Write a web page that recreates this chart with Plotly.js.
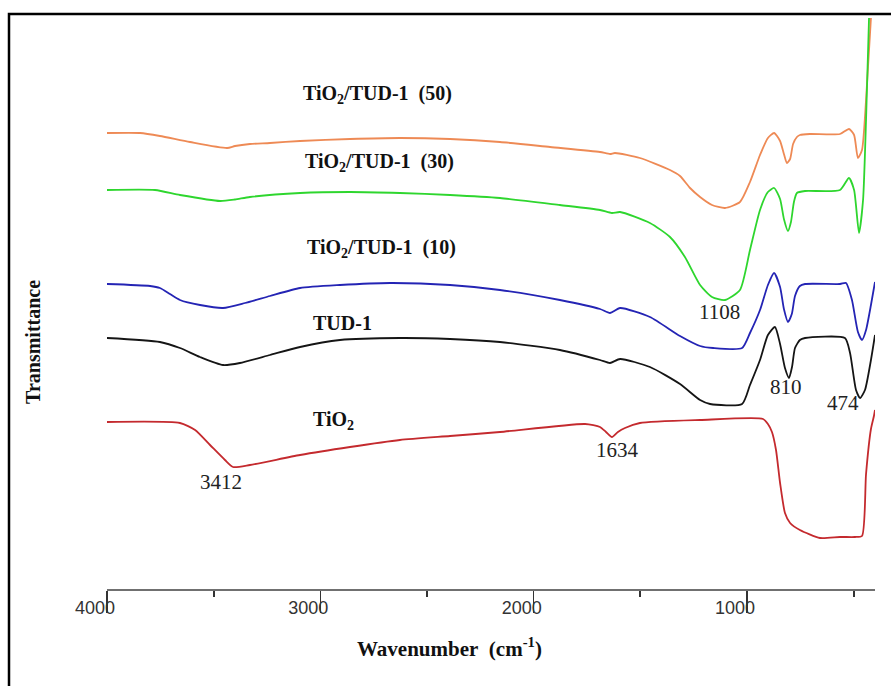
<!DOCTYPE html>
<html>
<head>
<meta charset="utf-8">
<script src="https://cdn.plot.ly/plotly-3.0.1.min.js"></script>
<style>html,body{margin:0;padding:0;background:#fff;}#chart{width:891px;height:686px;}</style>
</head>
<body>
<div id="chart"></div>
<script>
// Wavenumber (cm-1) and offset transmittance (a.u.)
const names = ["TiO2/TUD-1 (50)", "TiO2/TUD-1 (30)", "TiO2/TUD-1 (10)", "TUD-1", "TiO2"];
const colors = ["#EE8A55", "#2ED62E", "#2424B4", "#151515", "#C42A2E"];

const x50 = [4000,3845,3752,3611,3437,3400,3330,3236,3095,2861,2627,2392,2158,1923,1689,1642,1619,1502,1361,1314,1267,1220,1164,1103,1033,986,939,902,873,845,827,813,798,784,766,752,705,564,522,498,480,461,442,419];
const y50 = [91.2,91.2,90.6,89.4,88.2,88.6,89.0,89.2,89.6,90.0,90.2,90.0,89.4,88.4,87.4,87.0,87.2,86.2,83.8,82.6,80.2,78.4,76.8,76.2,77.4,81.4,86.8,90.2,91.2,89.6,87.0,85.2,86.0,89.0,90.4,90.8,91.0,91.0,92.0,90.8,86.2,87.8,97.8,114.2];

const x30 = [4000,3775,3658,3470,3400,3330,3095,2861,2627,2392,2158,1877,1689,1633,1595,1455,1361,1291,1220,1164,1103,1033,986,939,902,873,845,827,808,794,780,766,728,564,522,498,475,456,442,428];
const y30 = [79.8,79.8,78.8,77.6,77.9,78.4,79.2,79.4,79.2,78.8,78.2,76.8,75.8,75.2,75.4,73.2,70.4,66.4,60.8,58.4,57.8,59.8,67.8,75.8,79.4,80.2,78.0,74.0,71.6,73.4,77.4,79.2,79.6,79.8,82.2,79.8,71.2,77.8,93.8,114.2];

const x10 = [4000,3798,3752,3705,3658,3564,3456,3353,3236,3095,2908,2673,2392,2158,1877,1689,1642,1595,1455,1314,1220,1159,1023,986,939,902,873,845,827,808,790,775,752,728,564,536,508,480,461,442,419,400];
const y10 = [61.0,60.6,60.2,59.0,57.8,56.8,56.2,57.2,58.6,60.2,60.8,61.2,60.8,59.8,57.8,56.0,55.2,56.2,54.4,50.6,48.6,48.2,48.2,51.2,55.8,60.8,63.2,60.4,56.0,53.4,55.0,58.6,60.6,61.0,61.0,61.2,57.8,51.4,49.8,51.8,56.8,61.4];

const xT = [4000,3752,3658,3564,3456,3377,3236,3095,2908,2627,2392,2158,1877,1689,1642,1595,1455,1314,1220,1173,1023,986,939,902,869,845,822,803,789,775,752,728,541,517,489,470,447,419,400];
const yT = [50.2,49.4,48.2,46.4,44.8,45.2,46.8,48.4,49.8,50.2,50.0,49.4,47.8,45.8,45.2,46.0,44.4,41.0,37.8,37.0,37.0,40.8,45.8,50.8,52.4,49.0,44.2,42.2,44.4,48.2,49.8,50.2,50.2,47.2,39.8,38.2,39.8,45.8,50.8];

const xTi = [4000,3658,3587,3517,3447,3409,3330,3095,2861,2627,2392,2158,1759,1689,1661,1633,1605,1572,1502,1220,925,902,883,864,845,822,798,752,658,564,494,461,442,419,405,400];
const yTi = [33.4,33.2,31.8,28.8,25.8,24.4,24.8,26.8,28.4,29.8,30.6,31.4,33.0,32.4,31.4,30.4,31.4,32.2,33.2,33.8,34.0,33.0,31.4,27.8,21.2,15.2,13.2,11.8,10.2,10.4,10.4,10.6,23.0,32.0,34.6,35.8];

const xTicks = [4000, 3000, 2000, 1000];
const xTickText = ["4000", "3000", "2000", "1000"];
const xMinor = [3500, 2500, 1500, 500];

// peak labels
const peakText = ["3412", "1634", "1108", "810", "474"];
const peakX = [3466, 1605, 1131, 817, 550];
const peakY = [21.4, 27.8, 55.4, 40.4, 37.2];

// series labels
const labText = ["TiO<sub>2</sub>/TUD-1\u00a0 (50)", "TiO<sub>2</sub>/TUD-1\u00a0 (30)", "TiO<sub>2</sub>/TUD-1\u00a0 (10)", "TUD-1", "TiO<sub>2</sub>"];
const labX = [2730, 2725, 2711, 2894, 2936];
const labY = [99.0, 85.4, 68.2, 53.2, 33.8];

const xs = [x50, x30, x10, xT, xTi];
const ys = [y50, y30, y10, yT, yTi];

const traces = xs.map((x, i) => ({
  type: "scatter", mode: "lines", x: x, y: ys[i], name: names[i],
  line: {color: colors[i], width: 1.8, shape: "spline", smoothing: 0.6},
  hoverinfo: "skip"
}));

const serif = "Liberation Serif, Times New Roman, serif";
const annotations = [];
peakText.forEach((t, i) => annotations.push({
  x: peakX[i], y: peakY[i], xref: "x", yref: "y", text: t, showarrow: false,
  xanchor: "center", yanchor: "middle",
  font: {family: serif, size: 21, color: "#222"}
}));
labText.forEach((t, i) => annotations.push({
  x: labX[i], y: labY[i], xref: "x", yref: "y", text: "<b>" + t + "</b>", showarrow: false,
  xanchor: "center", yanchor: "middle",
  font: {family: serif, size: 20, color: "#111"}
}));
annotations.push({
  x: 0.4466, y: -0.1009, xref: "paper", yref: "paper", text: "<b>Wavenumber\u00a0 (cm<sup>-1</sup>)</b>",
  xanchor: "center", yanchor: "middle",
  showarrow: false, font: {family: serif, size: 21, color: "#111"}
});
annotations.push({
  x: -0.0964, y: 0.4296, xref: "paper", yref: "paper", text: "<b>Transmittance</b>", textangle: -90,
  xanchor: "center", yanchor: "middle",
  showarrow: false, font: {family: serif, size: 20, color: "#111"}
});

const layout = {
  width: 891, height: 686,
  margin: {l: 107, r: 16, t: 14, b: 97},
  paper_bgcolor: "#fff", plot_bgcolor: "#fff",
  showlegend: false,
  xaxis: {
    range: [4000, 400], autorange: false,
    showgrid: false, zeroline: false,
    showline: true, linecolor: "#707070", linewidth: 2,
    tickmode: "array", tickvals: xTicks, ticktext: xTickText,
    ticks: "outside", ticklen: 22, tickwidth: 1.5, tickcolor: "#333",
    ticklabelstandoff: -21, ticklabelshift: 12,
    tickfont: {family: "Liberation Sans, Arial, sans-serif", size: 18, color: "#333"},
    minor: {tickmode: "array", tickvals: xMinor, ticks: "outside", ticklen: 6, tickwidth: 2, tickcolor: "#333"}
  },
  yaxis: {
    range: [0, 115], autorange: false, visible: false,
    showgrid: false, zeroline: false, showline: false, showticklabels: false
  },
  shapes: [{
    type: "rect", xref: "paper", yref: "paper",
    x0: -0.1276, x1: 1.03, y0: -0.2, y1: 1.0,
    line: {color: "#000", width: 2.5}, fillcolor: "rgba(0,0,0,0)", layer: "below"
  }],
  annotations: annotations
};

Plotly.newPlot("chart", traces, layout, {displayModeBar: false, staticPlot: true});
</script>
</body>
</html>
